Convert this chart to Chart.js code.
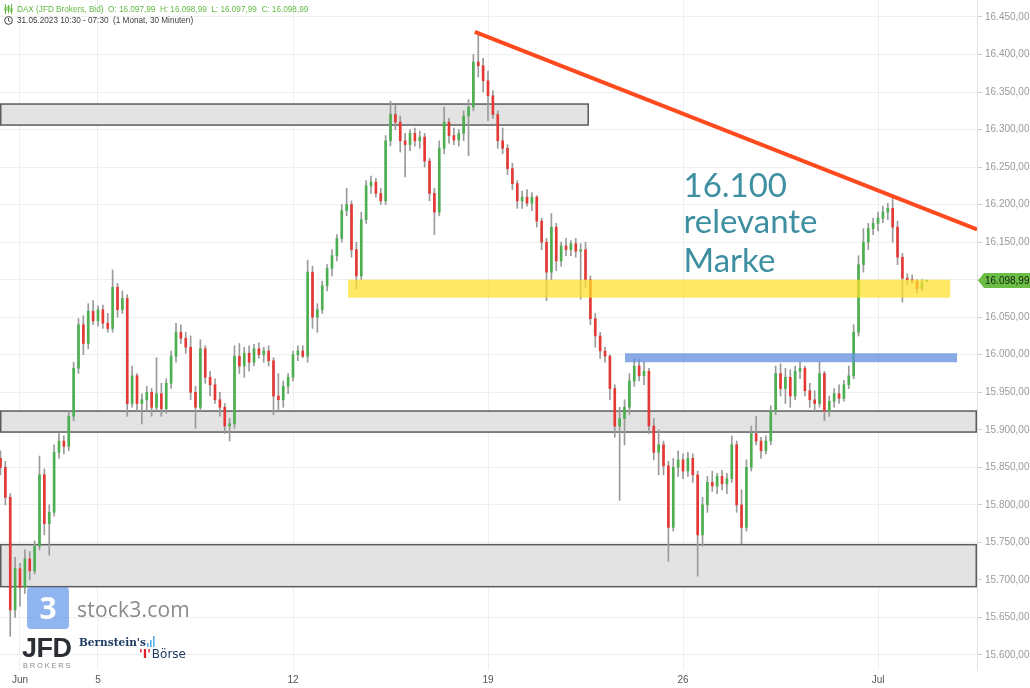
<!DOCTYPE html>
<html lang="de">
<head>
<meta charset="utf-8">
<title>DAX – 30 Minuten</title>
<script src="https://cdn.jsdelivr.net/npm/chart.js@4.4.0/dist/chart.umd.min.js"></script>
<style>
  html, body { margin: 0; padding: 0; background: #fff; }
  #wrap { position: relative; width: 1030px; height: 688px; overflow: hidden; font-family: 'Liberation Sans', Arial, sans-serif; }
  #chart { position: absolute; left: 0; top: 0; }
  .hdr { position: absolute; left: 4px; white-space: pre; font-size: 8.2px; line-height: 10px; }
  #hdr1 { top: 4px; color: #63b944; }
  #hdr2 { top: 16px; color: #3c3c3c; }
  .hdr svg { vertical-align: -2px; margin-right: 4px; }
  #s3box { position: absolute; left: 27px; top: 587px; width: 42px; height: 42px; border-radius: 4px; background: rgba(72,132,232,0.6); color: #fff; font: bold 30px 'Open Sans', sans-serif; text-align: center; line-height: 42px; }
  #s3txt { position: absolute; left: 77px; top: 595px; font: 21px 'Open Sans', sans-serif; color: #8a8a8a; letter-spacing: 0.2px; }
  #jfd { position: absolute; left: 22px; top: 634px; font: bold 27px 'Liberation Sans', Arial, sans-serif; color: #2b2e35; letter-spacing: -0.5px; line-height: 28px; }
  #jfdsub { position: absolute; left: 23px; top: 661px; font: 7.5px 'Liberation Sans', Arial, sans-serif; color: #8c8c8c; letter-spacing: 1.8px; }
  #bern { position: absolute; left: 79px; top: 636px; font: bold 10.5px 'DejaVu Serif', serif; color: #1d3c63; }
  #boerse { position: absolute; left: 139px; top: 647px; font: 12px 'DejaVu Sans', sans-serif; color: #1d3c63; }
  #boerse b { color: #e0202a; font-weight: bold; margin-right: 1px; }
</style>
</head>
<body>
<div id="wrap">
  <canvas id="chart" width="1030" height="688"></canvas>
  <div class="hdr" id="hdr1"></div>
  <div class="hdr" id="hdr2"></div>
  <div id="s3box">3</div>
  <div id="s3txt">stock3.com</div>
  <div id="jfd">JFD</div>
  <div id="jfdsub">BROKERS</div>
  <div id="bern">Bernstein's<svg width="8" height="11" style="margin-left:1px;vertical-align:-1px"><rect x="0" y="7" width="1.6" height="4" fill="#5ab0e8"/><rect x="3" y="4" width="1.6" height="7" fill="#5ab0e8"/><rect x="6" y="0" width="1.6" height="11" fill="#5ab0e8"/></svg></div>
  <div id="boerse"><b>'I'</b>Börse</div>
</div>
<script>
// DAX (JFD Brokers, Bid), 30-minute candles, 31.05.2023 – 04.07.2023,
// drawn on an index axis with 8 candles per trading day.
const instrument = 'DAX (JFD Brokers, Bid)';
const periodText = '31.05.2023 10:30 - 07:30  (1 Monat, 30 Minuten)';

// x-axis ticks (candle index of each week start) and their labels
const tickIdx  = [4, 20, 60, 100, 140, 180];
const tickText = ['Jun', '5', '12', '19', '26', 'Jul'];

// y-axis price ticks
const priceTicks = [15600, 15650, 15700, 15750, 15800, 15850, 15900, 15950, 16000,
                    16050, 16100, 16150, 16200, 16250, 16300, 16350, 16400, 16450];

const opens = [
  15862,15850,15810,15660,15715,15690,15728,15712,15745,15840,
  15775,15790,15870,15885,15878,15918,15982,16040,16015,16058,
  16045,16060,16042,16035,16090,16060,16075,15935,15972,15935,
  15940,15950,15930,15948,15928,15962,15998,16030,16022,16010,
  15950,15930,16008,15970,15960,15940,15930,15905,15908,15998,
  15985,16002,15990,16008,16000,16005,15992,15945,15940,15958,
  15970,16000,16005,15998,16110,16050,16060,16092,16115,16132,
  16155,16192,16200,16140,16105,16180,16225,16230,16215,16205,
  16285,16320,16310,16285,16280,16295,16285,16290,16258,16215,
  16190,16275,16310,16292,16286,16295,16318,16330,16390,16385,
  16365,16345,16320,16285,16275,16248,16228,16205,16210,16202,
  16210,16178,16150,16110,16170,16125,16145,16140,16148,16138,
  16140,16100,16048,16025,16005,15998,15955,15905,15915,15930,
  15965,15985,15972,15978,15905,15870,15880,15852,15770,15850,
  15860,15845,15862,15840,15760,15800,15830,15825,15838,15828,
  15835,15880,15800,15770,15850,15895,15885,15872,15885,15925,
  15975,15955,15970,15945,15978,15982,15952,15940,15935,15975,
  15925,15938,15948,15942,15960,15972,16030,16120,16150,16168,
  16175,16182,16190,16195,16170,16130,16102,16100,16098,16088,
  16097.99
];
const highs = [
  15872,15858,15815,15730,15722,15740,15738,15752,15865,15848,
  15800,15880,15895,15892,15925,15990,16048,16052,16068,16072,
  16065,16066,16055,16113,16095,16085,16080,15985,15975,15948,
  15958,15955,15996,15962,15968,16005,16042,16040,16030,16025,
  15958,16020,16012,15978,15968,15950,15935,15915,16012,16015,
  16010,16012,16014,16016,16010,16012,15996,15975,15965,15975,
  16005,16012,16012,16126,16118,16068,16098,16120,16140,16160,
  16200,16222,16205,16150,16190,16232,16238,16235,16222,16292,
  16338,16332,16318,16295,16300,16302,16298,16295,16262,16222,
  16285,16330,16315,16302,16300,16325,16340,16400,16430,16395,
  16378,16352,16325,16302,16280,16255,16232,16218,16220,16216,
  16212,16182,16155,16188,16175,16150,16155,16152,16155,16148,
  16150,16105,16055,16030,16010,16000,15960,15930,15940,15975,
  15995,15994,15990,15982,15915,15900,15885,15858,15862,15872,
  15868,15870,15868,15845,15810,15838,15845,15842,15846,15842,
  15892,15885,15820,15860,15905,15918,15890,15892,15932,15985,
  15988,15982,15980,15985,15990,15985,15962,15952,15990,15978,
  15945,15955,15960,15966,15985,16040,16132,16168,16175,16182,
  16190,16198,16202,16208,16178,16135,16108,16106,16100,16100,
  16098.99
];
const lows = [
  15840,15800,15625,15650,15665,15682,15700,15708,15740,15760,
  15733,15785,15862,15868,15872,15912,15975,16000,16008,16040,
  16038,16035,16030,16030,16050,16055,15918,15930,15925,15908,
  15925,15918,15925,15918,15922,15955,15990,16015,16002,15940,
  15902,15925,15962,15945,15935,15918,15895,15885,15902,15975,
  15970,15978,15985,15995,15990,15985,15920,15925,15930,15948,
  15965,15992,15996,15990,16035,16030,16055,16085,16105,16125,
  16150,16185,16130,16088,16100,16175,16215,16210,16200,16200,
  16278,16300,16270,16237,16272,16278,16275,16250,16205,16160,
  16185,16268,16282,16280,16278,16285,16265,16325,16370,16350,
  16312,16315,16275,16268,16240,16220,16195,16195,16198,16192,
  16170,16140,16072,16100,16112,16118,16132,16132,16130,16074,
  16090,16040,16010,15995,15990,15940,15890,15806,15880,15920,
  15958,15965,15960,15895,15860,15840,15840,15725,15765,15838,
  15835,15838,15830,15705,15745,15790,15818,15815,15820,15815,
  15830,15790,15748,15765,15845,15880,15862,15868,15880,15920,
  15945,15935,15930,15940,15968,15945,15930,15925,15930,15912,
  15918,15930,15935,15938,15955,15968,16025,16110,16140,16160,
  16165,16176,16180,16150,16120,16070,16094,16095,16082,16085,
  16097.99
];
const closes = [
  15850,15810,15660,15715,15690,15728,15712,15745,15840,15775,
  15790,15870,15885,15878,15918,15982,16040,16015,16058,16045,
  16060,16042,16035,16090,16060,16075,15935,15972,15935,15940,
  15950,15930,15948,15928,15962,15998,16030,16022,16010,15950,
  15930,16008,15970,15960,15940,15930,15905,15908,15998,15985,
  16002,15990,16008,16000,16005,15992,15945,15940,15958,15970,
  16000,16005,15998,16110,16050,16060,16092,16115,16132,16155,
  16192,16200,16140,16105,16180,16225,16230,16215,16205,16285,
  16320,16310,16285,16280,16295,16285,16290,16258,16215,16190,
  16275,16310,16292,16286,16295,16318,16330,16390,16385,16365,
  16345,16320,16285,16275,16248,16228,16205,16210,16202,16210,
  16178,16150,16110,16170,16125,16145,16140,16148,16138,16140,
  16100,16048,16025,16005,15998,15955,15905,15915,15930,15965,
  15985,15972,15978,15905,15870,15880,15852,15770,15850,15860,
  15845,15862,15840,15760,15800,15830,15825,15838,15828,15835,
  15880,15800,15770,15850,15895,15885,15872,15885,15925,15975,
  15955,15970,15945,15978,15982,15952,15940,15935,15975,15925,
  15938,15948,15942,15960,15972,16030,16120,16150,16168,16175,
  16182,16190,16195,16170,16130,16102,16100,16098,16088,16096,
  16098.99
];

// Drawn zones: [fromIndex, toIndex, lowPrice, highPrice]
const grayZones   = [[-0.1, 120.7, 16306, 16334], [-0.1, 200.3, 15897, 15925], [-0.1, 200.3, 15691, 15747]];
const yellowZone  = [71.3, 194.8, 16076, 16100];
const blueZone    = [128.1, 196.2, 15990, 16002];
// Downtrend line: [fromIndex, fromPrice, toIndex, toPrice]
const trendLine   = [97.3, 16430, 200.3, 16167];
const noteLines   = ['16.100', 'relevante', 'Marke'];
const noteIdx     = 140.1;

const UP = '#4caf50', DOWN = '#e53935', WICK = '#9a9a9a';
const FONT = "'Liberation Sans', Arial, sans-serif";

function fmt(v) {
  const [i, d] = v.toFixed(2).split('.');
  return i.replace(/\B(?=(\d{3})+(?!\d))/g, '.') + ',' + d;
}

const n = closes.length - 1;
document.getElementById('hdr1').innerHTML =
  '<svg width="9" height="10" viewBox="0 0 9 10"><path d="M1.5 0v10M4.5 1v8M7.5 0v10" stroke="#63b944" stroke-width="1"/><rect x="0.5" y="3" width="2" height="4" fill="#63b944"/><rect x="3.5" y="2" width="2" height="5" fill="#63b944"/><rect x="6.5" y="4" width="2" height="4" fill="#63b944"/></svg>' +
  instrument + '  O: ' + fmt(opens[n]) + '  H: ' + fmt(highs[n]) + '  L: ' + fmt(lows[n]) + '  C: ' + fmt(closes[n]);
document.getElementById('hdr2').innerHTML =
  '<svg width="9" height="9" viewBox="0 0 10 10"><circle cx="5" cy="5" r="4.3" fill="none" stroke="#3c3c3c" stroke-width="1.1"/><path d="M5 2.4V5.2L6.8 6.4" fill="none" stroke="#3c3c3c" stroke-width="1.1"/></svg>' +
  periodText;

const idx = closes.map((_, i) => i);
const wickData = idx.map(i => ({ x: i, y: [lows[i], highs[i]] }));
const bodyData = idx.map(i => ({ x: i, y: [opens[i], closes[i]] }));
const bodyColors = idx.map(i => closes[i] >= opens[i] ? UP : DOWN);

const overlay = {
  id: 'overlay',
  beforeDatasetsDraw(chart) {
    const { ctx, chartArea: a, scales: { x, y } } = chart;
    ctx.save();
    ctx.beginPath(); ctx.rect(a.left, a.top, a.right - a.left, a.bottom - a.top); ctx.clip();
    grayZones.forEach(z => {
      const x0 = x.getPixelForValue(z[0]), x1 = x.getPixelForValue(z[1]);
      const y0 = y.getPixelForValue(z[3]), y1 = y.getPixelForValue(z[2]);
      ctx.fillStyle = '#e3e3e3';
      ctx.fillRect(x0, y0, x1 - x0, y1 - y0);
      ctx.strokeStyle = '#5c5c5c'; ctx.lineWidth = 1.5;
      ctx.strokeRect(x0 + 0.75, y0, x1 - x0 - 1.5, y1 - y0);
    });
    ctx.restore();
  },
  afterDatasetsDraw(chart) {
    const { ctx, chartArea: a, scales: { x, y } } = chart;
    ctx.save();
    ctx.beginPath(); ctx.rect(a.left, a.top, a.right - a.left, a.bottom - a.top); ctx.clip();
    // support zone
    let x0 = x.getPixelForValue(yellowZone[0]), x1 = x.getPixelForValue(yellowZone[1]);
    let y0 = y.getPixelForValue(yellowZone[3]), y1 = y.getPixelForValue(yellowZone[2]);
    ctx.fillStyle = 'rgba(255,224,40,0.72)';
    ctx.fillRect(x0, y0, x1 - x0, y1 - y0);
    const zoneTop = y0;
    // resistance band
    x0 = x.getPixelForValue(blueZone[0]); x1 = x.getPixelForValue(blueZone[1]);
    y0 = y.getPixelForValue(blueZone[3]); y1 = y.getPixelForValue(blueZone[2]);
    ctx.fillStyle = 'rgba(98,142,222,0.75)';
    ctx.fillRect(x0, y0, x1 - x0, y1 - y0);
    // downtrend line
    ctx.strokeStyle = '#ff4a1f'; ctx.lineWidth = 4; ctx.lineCap = 'butt';
    ctx.beginPath();
    ctx.moveTo(x.getPixelForValue(trendLine[0]), y.getPixelForValue(trendLine[1]));
    ctx.lineTo(x.getPixelForValue(trendLine[2]), y.getPixelForValue(trendLine[3]));
    ctx.stroke();
    // note
    ctx.fillStyle = '#3d8fa1';
    ctx.font = "33px Lato, 'Open Sans', sans-serif";
    ctx.textAlign = 'left'; ctx.textBaseline = 'alphabetic';
    const nx = x.getPixelForValue(noteIdx);
    const offs = [-83, -47, -8];
    noteLines.forEach((t, k) => ctx.fillText(t, nx, zoneTop + offs[k]));
    ctx.restore();
  },
  afterDraw(chart) {
    const { ctx, chartArea: a, scales: { y } } = chart;
    const last = closes[closes.length - 1];
    const py = Math.round(y.getPixelForValue(last)) + 0.5;
    const L = a.right, R = chart.width;
    ctx.save();
    ctx.fillStyle = '#6abd45';
    ctx.beginPath();
    ctx.moveTo(L + 1, py);
    ctx.lineTo(L + 7, py - 7.5);
    ctx.lineTo(R, py - 7.5);
    ctx.lineTo(R, py + 7.5);
    ctx.lineTo(L + 7, py + 7.5);
    ctx.closePath(); ctx.fill();
    ctx.fillStyle = '#14200f';
    ctx.font = '10px ' + FONT;
    ctx.textAlign = 'left'; ctx.textBaseline = 'middle';
    ctx.fillText(fmt(last), L + 8, py + 0.5);
    ctx.restore();
  }
};

Chart.defaults.font.family = FONT;

new Chart(document.getElementById('chart'), {
  type: 'bar',
  data: {
    datasets: [
      { data: bodyData, backgroundColor: bodyColors, barThickness: 2, minBarLength: 1, grouped: false, order: 1 },
      { data: wickData, backgroundColor: WICK, barThickness: 1, grouped: false, order: 2 }
    ]
  },
  options: {
    responsive: false,
    animation: false,
    events: [],
    layout: { padding: 0 },
    plugins: { legend: { display: false }, tooltip: { enabled: false } },
    scales: {
      x: {
        type: 'linear', min: -0.1, max: 200.3, offset: false,
        afterBuildTicks: ax => { ax.ticks = tickIdx.map(v => ({ value: v })); },
        afterFit: ax => { ax.height = 18; ax.paddingLeft = 0; ax.paddingRight = 0; },
        ticks: {
          autoSkip: false, maxRotation: 0, padding: 4, color: '#555',
          font: { size: 10 },
          callback: v => tickText[tickIdx.indexOf(v)]
        },
        grid: { color: '#efefef', drawTicks: false, offset: false },
        border: { display: false }
      },
      y: {
        position: 'right', min: 15580, max: 16472.6,
        afterBuildTicks: ax => { ax.ticks = priceTicks.map(v => ({ value: v })); },
        afterFit: ax => { ax.width = 53; ax.paddingTop = 0; ax.paddingBottom = 0; },
        ticks: { padding: 3, color: '#9a9a9a', font: { size: 10 }, crossAlign: 'near', callback: v => fmt(v) },
        grid: { color: '#efefef', tickLength: 5, tickColor: '#cfcfcf' },
        border: { color: '#e2e2e2' }
      }
    }
  },
  plugins: [overlay]
});
</script>
</body>
</html>
